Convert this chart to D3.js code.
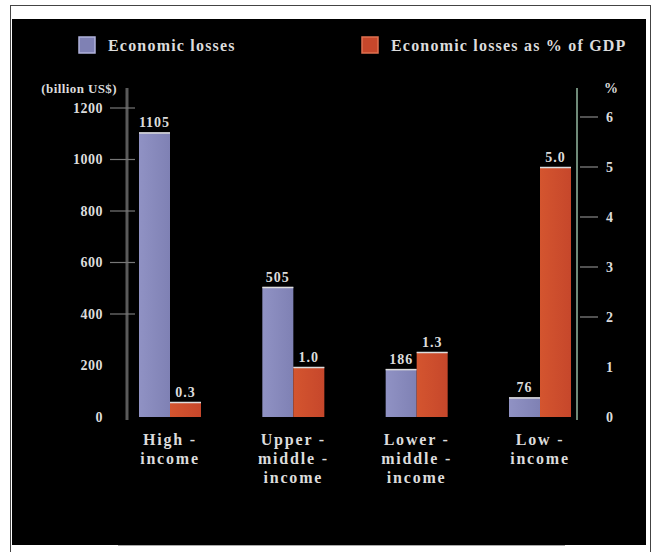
<!DOCTYPE html>
<html>
<head>
<meta charset="utf-8">
<script src="https://cdn.jsdelivr.net/npm/d3@7"></script>
<style>
  body { margin: 0; background: #fff; }
  svg text { font-family: "Liberation Serif", "DejaVu Serif", serif; fill: #dcdcdc; font-weight: bold; }
</style>
</head>
<body>
<div id="chart"></div>
<script>
// --- data ---
const categories = [["High -", "income"], ["Upper -", "middle -", "income"], ["Lower -", "middle -", "income"], ["Low -", "income"]];
const lossValues = [1105, 505, 186, 76];        // billion US$
const lossLabels = ["1105", "505", "186", "76"];
const pctValues = [0.3, 1.0, 1.3, 5.0];         // % of GDP
const pctLabels = ["0.3", "1.0", "1.3", "5.0"];
const leftTicks = [0, 200, 400, 600, 800, 1000, 1200];
const rightTicks = [0, 1, 2, 3, 4, 5, 6];
const legendItems = ["Economic losses", "Economic losses as % of GDP"];

const W = 657, H = 552;
const BLUE = "#7f81b4", RED = "#c6472b";

const svg = d3.select("#chart").append("svg").attr("width", W).attr("height", H);

// frame + black panel
svg.append("rect").attr("x", 10.5).attr("y", 5.5).attr("width", 640).attr("height", 560)
  .attr("fill", "#fff").attr("stroke", "#444");
svg.append("rect").attr("x", 12).attr("y", 19).attr("width", 634).attr("height", 526).attr("fill", "#000");
svg.append("line").attr("x1", 118).attr("x2", 565).attr("y1", 545.5).attr("y2", 545.5).attr("stroke", "#aaa");

// scales
const keys = categories.map((c, i) => "c" + i);
const x = d3.scalePoint().domain(keys).range([170, 540]);
const sub = d3.scaleBand().domain(["loss", "pct"]).range([-31, 31]);
const yL = d3.scaleLinear().domain([0, 1200]).range([417, 108]);
const yR = d3.scaleLinear().domain([0, 6]).range([417, 117]);

// gradient for bars
const defs = svg.append("defs");
[["gBlue", BLUE, "#9092c4"], ["gRed", RED, "#d4552f"]].forEach(([id, c1, c2]) => {
  const g = defs.append("linearGradient").attr("id", id);
  g.append("stop").attr("offset", "0%").attr("stop-color", c2);
  g.append("stop").attr("offset", "100%").attr("stop-color", c1);
});

// left axis
svg.append("line").attr("x1", 127).attr("x2", 127).attr("y1", 88).attr("y2", 420)
  .attr("stroke", "#5a5a5a").attr("stroke-width", 3);
const gl = svg.append("g");
gl.selectAll("line").data(leftTicks.filter(d => d >= 400)).join("line")
  .attr("x1", 110).attr("x2", 135).attr("y1", d => yL(d)).attr("y2", d => yL(d))
  .attr("stroke", "#777").attr("stroke-width", 1.2);
gl.selectAll("text").data(leftTicks).join("text")
  .attr("x", 103).attr("y", d => yL(d)).attr("dy", "0.35em").attr("text-anchor", "end")
  .attr("font-size", 14).attr("letter-spacing", 0.5).text(d => d);
svg.append("text").attr("x", 117).attr("y", 88).attr("dy", "0.35em").attr("text-anchor", "end")
  .attr("font-size", 13).attr("letter-spacing", 0.4).text("(billion US$)");

// right axis
svg.append("line").attr("x1", 577).attr("x2", 577).attr("y1", 88).attr("y2", 420)
  .attr("stroke", "#6f8a78").attr("stroke-width", 2);
const gr = svg.append("g");
gr.selectAll("line").data(rightTicks.filter(d => d >= 2)).join("line")
  .attr("x1", 580).attr("x2", 598).attr("y1", d => yR(d)).attr("y2", d => yR(d))
  .attr("stroke", "#888").attr("stroke-width", 1.2);
gr.selectAll("text").data(rightTicks).join("text")
  .attr("x", 606).attr("y", d => yR(d)).attr("dy", "0.35em")
  .attr("font-size", 14).text(d => d);
svg.append("text").attr("x", 604).attr("y", 88).attr("dy", "0.35em")
  .attr("font-size", 14).text("%");

// bars
const groups = svg.selectAll("g.grp").data(keys).join("g").attr("class", "grp")
  .attr("transform", d => `translate(${x(d)},0)`);

function drawBars(sel, kind, vals, labels, scale, fill) {
  sel.append("rect")
    .attr("x", sub(kind)).attr("width", sub.bandwidth())
    .attr("y", (d, i) => scale(vals[i])).attr("height", (d, i) => scale(0) - scale(vals[i]))
    .attr("fill", fill);
  sel.append("line")
    .attr("x1", sub(kind)).attr("x2", sub(kind) + sub.bandwidth())
    .attr("y1", (d, i) => scale(vals[i]) + 0.5).attr("y2", (d, i) => scale(vals[i]) + 0.5)
    .attr("stroke", "#ddd").attr("stroke-width", 1.5);
  sel.append("text")
    .attr("x", sub(kind) + sub.bandwidth() / 2).attr("y", (d, i) => scale(vals[i]) - 5)
    .attr("text-anchor", "middle").attr("font-size", 14).attr("letter-spacing", 1)
    .text((d, i) => labels[i]);
}
drawBars(groups, "loss", lossValues, lossLabels, yL, "url(#gBlue)");
drawBars(groups, "pct", pctValues, pctLabels, yR, "url(#gRed)");

// category labels
groups.append("text").attr("text-anchor", "middle").attr("font-size", 16).attr("letter-spacing", 1.8)
  .selectAll("tspan").data((d, i) => categories[i]).join("tspan")
  .attr("x", 0).attr("y", (d, j) => 445 + j * 19).text(d => d);

// legend
const lg = svg.append("g");
[[79, BLUE, "#b0b2dc"], [362, RED, "#e07050"]].forEach(([lx, c, s], i) => {
  lg.append("rect").attr("x", lx).attr("y", 37).attr("width", 16).attr("height", 16)
    .attr("fill", c).attr("stroke", s).attr("stroke-width", 1.5);
  lg.append("text").attr("x", lx + 29).attr("y", 45).attr("dy", "0.35em")
    .attr("font-size", 16).attr("letter-spacing", 1.2).text(legendItems[i]);
});
</script>
</body>
</html>
